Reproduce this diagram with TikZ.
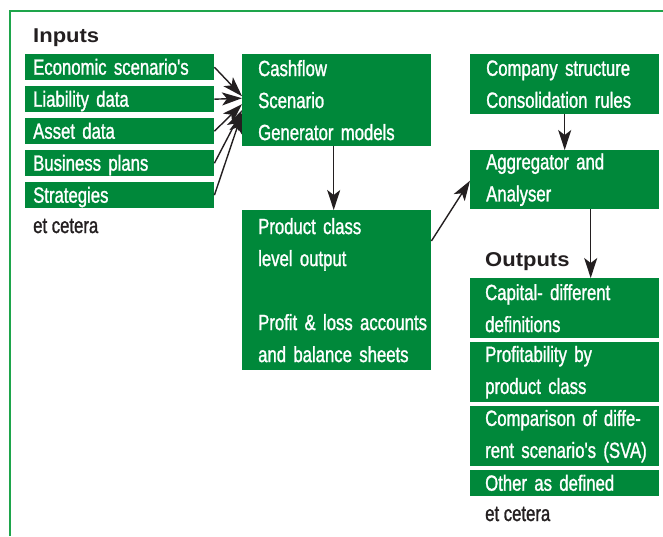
\documentclass[tikz,border=0pt]{standalone}
\usepackage{fontspec}
\usepackage{tikz}
\usetikzlibrary{arrows.meta}

\newfontfamily\boxfont[FakeStretch=0.76,FakeBold=1.2]{Liberation Sans}
\newfontfamily\headfont[FakeStretch=1.1]{Liberation Sans}

\definecolor{boxgreen}{RGB}{0,136,58}
\definecolor{framegreen}{RGB}{30,165,75}
\definecolor{inkblack}{RGB}{35,31,32}

\tikzset{
  greenbox/.style={fill=boxgreen, text=white, anchor=north west, inner ysep=0pt, inner xsep=4pt,
    text width=181pt, minimum width=189pt, align=left, font=\boxfont\fontsize{22}{32}\selectfont},
  inbox/.style={greenbox, minimum height=26pt, text height=16pt, text depth=1pt,
    execute at begin node={\leftskip=4pt}},
  mainbox/.style={greenbox, execute at begin node={\leftskip=12pt}},
  outbox/.style={greenbox, execute at begin node={\leftskip=11pt}},
  etc/.style={anchor=base west, inner sep=0pt, text=inkblack, font=\boxfont\fontsize{22}{32}\selectfont},
  heading/.style={anchor=base west, inner sep=0pt, text=inkblack, font=\headfont\bfseries\fontsize{20}{24}\selectfont},
  flow/.style={-{Stealth[length=20pt,width=13pt,inset=5pt]}, line width=1.4pt, inkblack}
}

\begin{document}
\begin{tikzpicture}[x=1pt,y=-1pt]
  \useasboundingbox (0,0) rectangle (663,536);
  % frame
  \draw[framegreen, line width=1.5pt] (10,536) -- (10,11) -- (663,11);

  % inputs
  \node[heading] (inputs) at (33,42) {Inputs};
  \node[inbox] (econ) at (25,54) {Economic scenario's};
  \node[inbox] (liab) at (25,86) {Liability data};
  \node[inbox] (asset) at (25,118) {Asset data};
  \node[inbox] (plans) at (25,150) {Business plans};
  \node[inbox] (strat) at (25,182) {Strategies};
  \node[etc] (inetc) at (33,233) {et cetera};

  % models
  \node[mainbox, minimum height=92pt] (cash) at (242,54) {Cashflow\\Scenario\\Generator models};
  \node[mainbox, minimum height=160pt] (prod) at (242,210)
    {Product class\\level output\\[32pt]Profit \& loss accounts\\and balance sheets};
  \node[mainbox, minimum height=60pt] (comp) at (470,54) {Company structure\\Consolidation rules};
  \node[mainbox, minimum height=59pt] (agg) at (470,150) {Aggregator and\\Analyser};

  % outputs
  \node[heading] (outputs) at (485,266) {Outputs};
  \node[outbox, minimum height=60pt] (capital) at (470,278) {Capital- different\\definitions};
  \node[outbox, minimum height=60pt] (profit) at (470,342) {Profitability by\\product class};
  \node[outbox, minimum height=60pt] (compare) at (470,406) {Comparison of diffe-\\rent scenario's (SVA)};
  \node[outbox, minimum height=26pt, text height=16pt, text depth=1pt] (other) at (470,470) {Other as defined};
  \node[etc] (outetc) at (485,521) {et cetera};

  % arrows
  \draw[flow] (econ.east) -- ([yshift=4pt]cash.west);
  \draw[flow] (liab.east) -- ([yshift=2pt]cash.west);
  \draw[flow] (asset.east) -- ([yshift=-4pt]cash.west);
  \draw[flow] (plans.east) -- ([yshift=-10pt]cash.west);
  \draw[flow] (strat.east) -- ([yshift=-13pt]cash.west);
  \draw[flow] ([xshift=-3pt]cash.south) -- ([xshift=-3pt]prod.north);
  \draw[flow] ([yshift=-31pt]prod.north east) -- ([yshift=-1pt]agg.west);
  \draw[flow] (comp.south) -- (agg.north);
  \draw[flow] ([xshift=26pt]agg.south) -- ([xshift=26pt]capital.north);
\end{tikzpicture}
\end{document}
